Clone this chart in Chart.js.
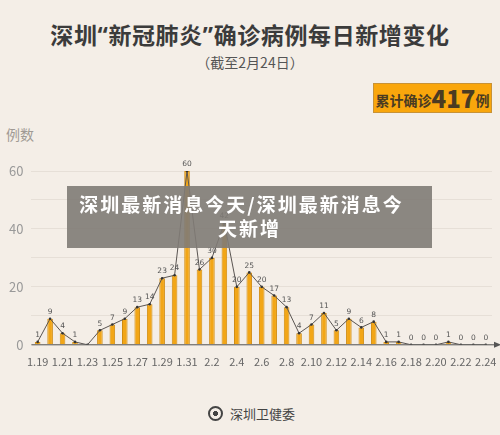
<!DOCTYPE html>
<html>
<head>
<meta charset="utf-8">
<script src="https://cdn.jsdelivr.net/npm/chart.js@4"></script>
<style>
  body { margin: 0; background: #f4eee7; font-family: "Noto Sans CJK SC", sans-serif; }
  #page { position: relative; width: 500px; height: 435px; overflow: hidden; background: #f4eee7; }
  .title { position: absolute; top: 17px; left: 0; width: 500px; text-align: center; font-size: 23px; font-weight: bold; color: #3b3b3b; letter-spacing: 0.6px; }
  .title .q { font-family: "Noto Sans", sans-serif; }
  .subtitle { position: absolute; top: 52px; left: 0; width: 500px; text-align: center; font-size: 14px; color: #555; }
  .badge { position: absolute; left: 373px; top: 83px; width: 117px; height: 28px; background: #f9a60c; border: 1px solid #c89236; color: #4a3b22; font-weight: bold; font-size: 14px; line-height: 28px; text-align: center; }
  .badge b { font-size: 24px; vertical-align: -2px; }
  .yname { position: absolute; left: 6px; top: 124px; font-size: 14px; color: #a09a94; }
  #wrap { position: absolute; left: 0; top: 140px; width: 500px; height: 230px; }
  .banner { position: absolute; left: 67px; top: 186px; width: 365px; height: 62px; background: rgba(128, 123, 118, 0.9); color: #fff; font-weight: bold; font-size: 19px; letter-spacing: 2px; text-align: center; line-height: 24px; padding-top: 6px; box-sizing: border-box; white-space: nowrap; }
  .banner span { position: relative; left: -8px; }
  .footer { position: absolute; top: 404px; left: 230px; font-size: 13px; color: #444; }
  .logo { position: absolute; left: 208px; top: 406px; width: 15px; height: 15px; border-radius: 50%; border: 2px solid #444; box-sizing: border-box; background: radial-gradient(circle, #444 30%, #f4eee7 35%); }
</style>
</head>
<body>
<div id="page">
  <div class="title">深圳<span class="q">“</span>新冠肺炎<span class="q">”</span>确诊病例每日新增变化</div>
  <div class="subtitle">（截至2月24日）</div>
  <div class="badge">累计确诊<b>417</b>例</div>
  <div class="yname">例数</div>
  <div id="wrap"><canvas id="chart"></canvas></div>
  <div class="banner"><span>深圳最新消息今天/深圳最新消息今</span><br>天新增</div>
  <div class="logo"></div>
  <div class="footer">深圳卫健委</div>
</div>
<script>
const dates = ['1.19', '1.20', '1.21', '1.22', '1.23', '1.24', '1.25', '1.26', '1.27', '1.28', '1.29', '1.30', '1.31',
  '2.1', '2.2', '2.3', '2.4', '2.5', '2.6', '2.7', '2.8', '2.9', '2.10', '2.11', '2.12', '2.13', '2.14', '2.15',
  '2.16', '2.17', '2.18', '2.19', '2.20', '2.21', '2.22', '2.23', '2.24'];
const newCases = [1, 9, 4, 1, 0, 5, 7, 9, 13, 14, 23, 24, 60,
  26, 30, 42, 20, 25, 20, 17, 13, 4, 7, 11, 5, 9, 6, 8,
  1, 1, 0, 0, 0, 1, 0, 0, 0];
const unlabeled = ['1.23'];
const yTicks = [0, 20, 40, 60];

// value labels over the line points + arrow on the x axis
const extras = {
  id: 'extras',
  afterDatasetsDraw(chart) {
    const ctx = chart.ctx;
    const meta = chart.getDatasetMeta(1);
    ctx.save();
    ctx.fillStyle = '#555';
    ctx.font = '7.5px "DejaVu Sans"';
    ctx.textAlign = 'center';
    ctx.textBaseline = 'bottom';
    meta.data.forEach((pt, i) => {
      if (unlabeled.includes(dates[i])) return;
      ctx.fillText(newCases[i], pt.x, pt.y - 3);
    });
    const y0 = chart.scales.y.getPixelForValue(0);
    const right = chart.chartArea.right;
    ctx.strokeStyle = '#555';
    ctx.lineWidth = 1;
    ctx.beginPath();
    ctx.moveTo(chart.chartArea.left, y0);
    ctx.lineTo(right + 4, y0);
    ctx.stroke();
    ctx.fillStyle = '#555';
    ctx.beginPath();
    ctx.moveTo(right + 9, y0);
    ctx.lineTo(right + 2, y0 - 3);
    ctx.lineTo(right + 2, y0 + 3);
    ctx.closePath();
    ctx.fill();
    ctx.restore();
  }
};

new Chart(document.getElementById('chart'), {
  data: {
    labels: dates,
    datasets: [
      {
        type: 'bar',
        data: newCases,
        backgroundColor: '#f2a617',
        borderColor: '#d18c10',
        borderWidth: 1,
        barPercentage: 0.45,
        categoryPercentage: 1,
        order: 2,
      },
      {
        type: 'line',
        data: newCases,
        borderColor: '#5a5552',
        borderWidth: 1,
        pointRadius: 1.3,
        pointBackgroundColor: '#333',
        pointBorderWidth: 0,
        tension: 0,
        order: 1,
      },
    ],
  },
  plugins: [extras],
  options: {
    responsive: true,
    maintainAspectRatio: false,
    animation: false,
    layout: { padding: { top: 31, right: 8, left: 1 } },
    plugins: {
      legend: { display: false },
      tooltip: { enabled: false },
    },
    scales: {
      x: {
        grid: { display: false },
        border: { display: false },
        ticks: {
          autoSkip: false,
          maxRotation: 0,
          color: '#666',
          font: { size: 11, family: 'Noto Sans CJK SC' },
          padding: 2,
          callback: (v, i) => (i % 2 === 0 ? dates[i] : ''),
        },
      },
      y: {
        min: 0,
        max: 60,
        grid: { color: '#e6dfd7', drawTicks: false },
        border: { display: false },
        ticks: {
          stepSize: 10,
          color: '#999',
          padding: 8,
          font: { size: 13, family: 'Noto Sans CJK SC' },
          callback: (v) => (yTicks.includes(v) ? v : ''),
        },
      },
    },
  },
});
</script>
</body>
</html>
